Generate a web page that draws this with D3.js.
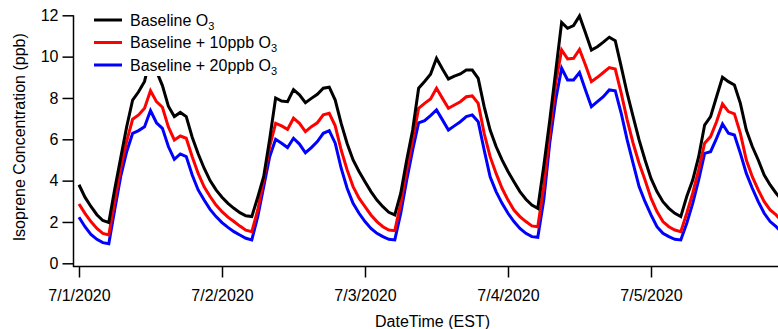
<!DOCTYPE html>
<html>
<head>
<meta charset="utf-8">
<script src="https://cdn.jsdelivr.net/npm/d3@7"></script>
<style>
  body { margin: 0; background: #fff; }
  svg { display: block; font-family: "Liberation Sans", Arial, sans-serif; }
</style>
</head>
<body>
<svg id="chart" width="778" height="329"></svg>
<script>
// hourly values starting 7/1/2020 00:00 EST
const START = new Date(2020, 6, 1, 0, 0);

const baseline = [
  3.8, 3.2, 2.75, 2.35, 2.07, 1.97, 3.6, 5.1, 6.6, 7.9,
  8.3, 8.8, 10.0, 9.3, 8.6, 7.6, 7.1, 7.3, 7.1, 6.1,
  5.3, 4.6, 4.0, 3.55, 3.2, 2.9, 2.66, 2.45, 2.3, 2.26,
  3.2, 4.2, 6.0, 8.0, 7.85, 7.82, 8.4, 8.15, 7.77, 7.98,
  8.18, 8.47, 8.52, 7.9, 6.77, 5.8, 5.0, 4.44, 3.95, 3.47,
  3.06, 2.74, 2.47, 2.34, 3.39, 5.0, 6.45, 8.47, 8.8, 9.15,
  9.92, 9.4, 8.92, 9.06, 9.16, 9.35, 9.35, 8.95, 7.58, 6.45,
  5.65, 5.0, 4.44, 3.95, 3.47, 3.1, 2.82, 2.66, 4.7, 6.9,
  9.27, 11.65, 11.37, 11.5, 11.97, 11.15, 10.32, 10.48, 10.7, 10.94,
  10.77, 9.52, 8.23, 7.1, 5.97, 5.0, 4.11, 3.47, 2.98, 2.66,
  2.42, 2.26, 3.23, 4.03, 5.16, 6.69, 7.1, 8.06, 9.0, 8.79,
  8.63, 7.74, 6.45, 5.65, 5.0, 4.27, 3.79, 3.39, 3.06
];

const plus10 = [
  2.87, 2.42, 2.02, 1.69, 1.45, 1.37, 3.0, 4.6, 5.9, 6.97,
  7.18, 7.5, 8.35, 7.82, 7.55, 6.6, 5.97, 6.16, 6.05, 5.16,
  4.35, 3.7, 3.23, 2.82, 2.5, 2.23, 2.02, 1.8, 1.6, 1.53,
  2.58, 4.03, 5.65, 6.77, 6.65, 6.48, 7.02, 6.77, 6.37, 6.61,
  6.8, 7.18, 7.26, 6.65, 5.48, 4.52, 3.71, 3.15, 2.74, 2.34,
  2.02, 1.77, 1.61, 1.58, 2.9, 4.52, 5.97, 7.5, 7.74, 7.95,
  8.47, 7.98, 7.5, 7.66, 7.82, 8.06, 8.1, 7.74, 6.29, 5.16,
  4.35, 3.63, 3.06, 2.58, 2.26, 2.02, 1.81, 1.77, 3.71, 6.29,
  8.71, 10.32, 9.89, 9.92, 10.35, 9.6, 8.79, 9.0, 9.23, 9.47,
  9.4, 8.23, 6.94, 5.81, 4.84, 4.03, 3.15, 2.5, 2.02, 1.77,
  1.61, 1.53, 2.42, 3.39, 4.52, 5.81, 6.13, 6.85, 7.71, 7.34,
  7.23, 6.29, 5.0, 4.19, 3.55, 2.98, 2.58, 2.34, 2.02
];

const plus20 = [
  2.23, 1.77, 1.4, 1.16, 1.0, 0.95, 2.6, 4.2, 5.4, 6.29,
  6.42, 6.61, 7.39, 6.8, 6.53, 5.65, 5.03, 5.29, 5.16, 4.27,
  3.55, 3.06, 2.61, 2.26, 1.97, 1.74, 1.53, 1.37, 1.21, 1.13,
  2.26, 3.71, 5.16, 6.0, 5.81, 5.6, 6.05, 5.77, 5.35, 5.6,
  5.89, 6.29, 6.42, 5.81, 4.6, 3.63, 2.9, 2.42, 2.02, 1.69,
  1.45, 1.29, 1.16, 1.13, 2.42, 4.03, 5.48, 6.8, 6.9, 7.15,
  7.42, 6.94, 6.45, 6.65, 6.85, 7.1, 7.18, 6.85, 5.48, 4.19,
  3.47, 2.9, 2.42, 2.02, 1.69, 1.45, 1.29, 1.26, 3.06, 5.81,
  7.9, 9.44, 8.87, 8.87, 9.23, 8.39, 7.58, 7.82, 8.06, 8.39,
  8.35, 7.26, 5.97, 4.84, 3.71, 2.98, 2.34, 1.77, 1.45, 1.29,
  1.16, 1.13, 1.94, 2.9, 4.03, 5.32, 5.4, 6.05, 6.74, 6.29,
  6.21, 5.32, 4.35, 3.63, 2.98, 2.42, 2.02, 1.77, 1.48
];

const series = [
  { pre: 'Baseline O', sub: '3', color: '#000000', values: baseline },
  { pre: 'Baseline + 10ppb O', sub: '3', color: '#ff0000', values: plus10 },
  { pre: 'Baseline + 20ppb O', sub: '3', color: '#0000ff', values: plus20 },
];

const xTicks = [
  new Date(2020, 6, 1), new Date(2020, 6, 2), new Date(2020, 6, 3),
  new Date(2020, 6, 4), new Date(2020, 6, 5)
];
const yTicks = [0, 2, 4, 6, 8, 10, 12];

const W = 778, H = 329;
const svg = d3.select('#chart');

const x = d3.scaleTime()
  .domain([START, new Date(2020, 6, 6)])
  .range([79, 794]);
const y = d3.scaleLinear().domain([0, 12]).range([263.3, 15.3]);

svg.append('defs').append('clipPath').attr('id', 'plot-clip')
  .append('rect').attr('x', 74).attr('y', 0).attr('width', W - 74).attr('height', 266);

// lines
const line = d3.line()
  .x((d, i) => x(d3.timeHour.offset(START, i)))
  .y(d => y(d));

const lines = svg.append('g').attr('clip-path', 'url(#plot-clip)');
// draw blue first so black ends up on top
for (const s of series.slice().reverse()) {
  lines.append('path')
    .datum(s.values)
    .attr('d', line)
    .attr('fill', 'none')
    .attr('stroke', s.color)
    .attr('stroke-width', 3)
    .attr('stroke-linejoin', 'miter');
}

// axes
const yAxis = svg.append('g')
  .attr('transform', 'translate(73.5,0)')
  .call(d3.axisLeft(y).tickValues(yTicks).tickSize(11).tickSizeOuter(0).tickPadding(4));
yAxis.select('.domain').remove();
yAxis.selectAll('.tick line').attr('stroke', '#000').attr('stroke-width', 1.5);
yAxis.selectAll('.tick text')
  .attr('font-size', 16).attr('fill', '#000')
  .attr('font-family', '"Liberation Sans", Arial, sans-serif');

const xAxis = svg.append('g')
  .attr('transform', 'translate(0,266.5)')
  .call(d3.axisBottom(x).tickValues(xTicks).tickSize(11).tickSizeOuter(0).tickPadding(12)
    .tickFormat(d3.timeFormat('%-m/%-d/%Y')));
xAxis.select('.domain').remove();
xAxis.selectAll('.tick line').attr('stroke', '#000').attr('stroke-width', 1.5);
xAxis.selectAll('.tick text')
  .attr('font-size', 16).attr('fill', '#000')
  .attr('font-family', '"Liberation Sans", Arial, sans-serif');

svg.append('line')
  .attr('x1', 73.5).attr('x2', 73.5).attr('y1', y(12)).attr('y2', 267)
  .attr('stroke', '#000').attr('stroke-width', 1.5);
svg.append('line')
  .attr('x1', 73).attr('x2', W).attr('y1', 266.5).attr('y2', 266.5)
  .attr('stroke', '#000').attr('stroke-width', 1.5);

// axis titles
svg.append('text')
  .attr('x', (79 + W) / 2 + 4).attr('y', 327)
  .attr('text-anchor', 'middle').attr('font-size', 16)
  .text('DateTime (EST)');
svg.append('text')
  .attr('transform', 'translate(25,' + (y(6) - 2) + ') rotate(-90)')
  .attr('text-anchor', 'middle').attr('font-size', 16)
  .text('Isoprene Concentration (ppb)');

// legend, on an opaque box like the original (it hides the first peak)
const legend = svg.append('g');
legend.append('rect')
  .attr('x', 86).attr('y', 6).attr('width', 198).attr('height', 70)
  .attr('fill', '#fff');
series.forEach((s, i) => {
  const ly = 20 + i * 22.5;
  legend.append('line')
    .attr('x1', 94).attr('x2', 122).attr('y1', ly).attr('y2', ly)
    .attr('stroke', s.color).attr('stroke-width', 3);
  const t = legend.append('text')
    .attr('x', 130).attr('y', ly + 5.5).attr('font-size', 16);
  t.append('tspan').text(s.pre);
  t.append('tspan').attr('font-size', 11).attr('dy', 4).text(s.sub);
});
</script>
</body>
</html>
